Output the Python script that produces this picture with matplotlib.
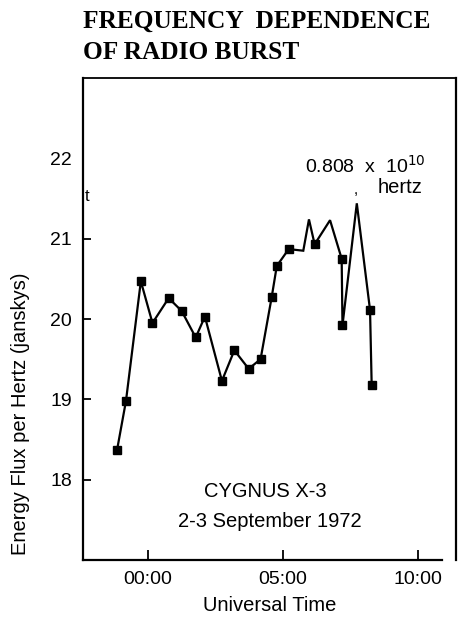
#!/usr/bin/env python3

"""
Frequency dependence of radio burst, Cygnus X-3, 2-3 September 1972
"""

import matplotlib
matplotlib.use("Agg")
import matplotlib.pyplot as plt

# hours relative to 00:00 UT and log10 energy flux (janskys)
hours = [-1.14, -0.81, -0.26, 0.17, 0.77, 1.25, 1.77, 2.11, 2.74, 3.20,
         3.73, 4.17, 4.58, 4.77, 5.21, 5.75, 5.96, 6.17, 6.74, 7.17,
         7.20, 7.73, 8.22, 8.28]
flux = [18.37, 18.98, 20.47, 19.95, 20.26, 20.10, 19.77, 20.03, 19.23, 19.61,
        19.38, 19.50, 20.27, 20.66, 20.87, 20.85, 21.24, 20.93, 21.23, 20.75,
        19.92, 21.44, 20.11, 19.18]
# points drawn with a square marker (the rest are plain line vertices)
marked = [0, 1, 2, 3, 4, 5, 6, 7, 8, 9, 10, 11, 12, 13, 14, 17, 19, 20, 22, 23]

x_ticks = [0, 5, 10]
x_labels = ["00:00", "05:00", "10:00"]
y_ticks = [18, 19, 20, 21, 22]

W, H = 462, 619
fig = plt.figure(figsize=(W / 100, H / 100), dpi=100)
plt.rcParams["font.family"] = ["Liberation Sans", "DejaVu Sans"]

ax = fig.add_axes([83 / W, 1 - 560 / H, (456 - 83) / W, (560 - 78) / H])
ax.plot(hours, flux, color="black", lw=1.6, marker="s", ms=6,
        markevery=marked, solid_joinstyle="miter")

ax.set_xlim(-2.4, 11.4)
ax.set_ylim(17.0, 23.0)
ax.set_xticks(x_ticks)
ax.set_xticklabels(x_labels)
ax.set_yticks(y_ticks)
ax.tick_params(direction="in", length=7, width=1.3, labelsize=14, pad=8)
ax.tick_params(axis="y", length=6)
ax.yaxis.get_major_ticks()[-1].tick1line.set_visible(False)
for side in ("left", "bottom", "right"):
    ax.spines[side].set_linewidth(1.6)
ax.spines["top"].set_linewidth(1.3)
ax.spines["bottom"].set_bounds(-2.4, 10.9)

ax.set_xlabel("Universal Time", fontsize=14.5, labelpad=6)
ax.set_ylabel("Energy Flux per Hertz (janskys)", fontsize=14.5)
ax.yaxis.set_label_coords(-0.142, 0.303)

ax.text(4.33, 17.85, "CYGNUS X-3", fontsize=14.5, ha="center", va="center")
ax.text(4.52, 17.475, "2-3 September 1972", fontsize=14.5,
        ha="center", va="center")
ax.text(10.26, 21.91, "0.808  x  10$^{10}$", fontsize=14, ha="right",
        va="center")
ax.text(10.15, 21.64, "hertz", fontsize=14.5, ha="right", va="center")
ax.text(7.7, 21.6, ",", fontsize=11, ha="center", va="center")
ax.text(-2.35, 21.53, "t", fontsize=12, ha="left", va="center")

fig.text(83 / W, 1 - 10 / H, "FREQUENCY  DEPENDENCE\nOF RADIO BURST",
         family="Liberation Serif", weight="bold", fontsize=18.3,
         ha="left", va="top", linespacing=1.45)

fig.savefig("out.png", dpi=100)
